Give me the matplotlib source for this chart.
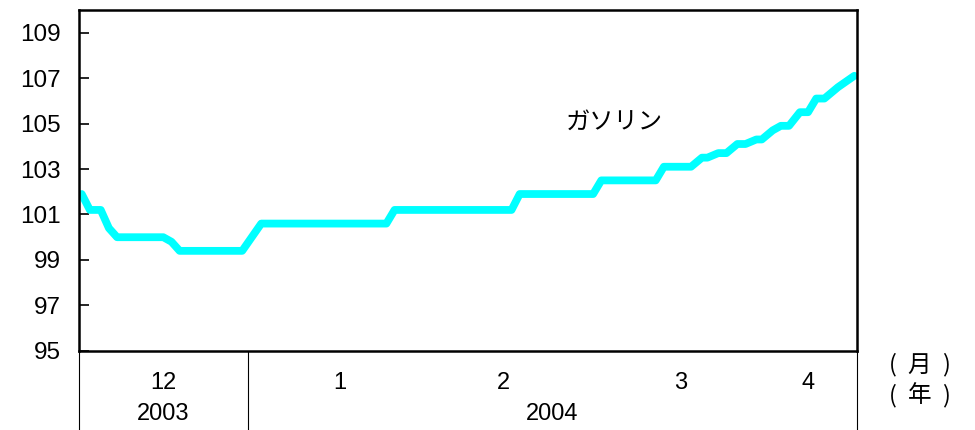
import matplotlib.pyplot as plt
import matplotlib.transforms as mtransforms

plt.rcParams['font.family'] = ['Liberation Sans', 'Noto Sans CJK JP', 'DejaVu Sans']

# days counted from 1 Dec 2003, gasoline price index
days = [0.5, 2, 4, 5.5, 7, 15.5, 17, 18.5, 30, 33.5, 56.5, 58, 79.5, 81,
        94.5, 96, 106, 107.5, 112.5, 114.5, 115.5, 117.5, 119, 121, 122.5,
        124.5, 125.5, 127.5, 129, 130.5, 132.5, 134, 135.5, 137, 139.5, 142.5]
gasoline = [101.9, 101.2, 101.2, 100.4, 100.0, 100.0, 99.8, 99.4, 99.4, 100.6,
            100.6, 101.2, 101.2, 101.9, 101.9, 102.5, 102.5, 103.1, 103.1, 103.5,
            103.5, 103.7, 103.7, 104.1, 104.1, 104.3, 104.3, 104.7, 104.9, 104.9,
            105.5, 105.5, 106.1, 106.1, 106.6, 107.1]

month_labels = ['12', '1', '2', '3', '4']
month_pos = [15.5, 48, 78, 110.5, 134]
year_labels = ['2003', '2004']
year_pos = [15.5, 87]
year_bounds = [0, 31, 143]

fig = plt.figure(figsize=(9.75, 4.3), dpi=100)
ax = fig.add_axes([0.081, 0.184, 0.798, 0.793])

ax.plot(days, gasoline, color='#00FFFF', lw=5.6,
        solid_capstyle='round', solid_joinstyle='round')

ax.set_xlim(0, 143)
ax.set_ylim(95, 110)
ax.set_yticks(range(95, 110, 2))
ax.tick_params(axis='y', direction='in', length=7, width=1.2, labelsize=17.5, pad=13)
ax.set_xticks([])
for s in ax.spines.values():
    s.set_linewidth(1.8)
    s.set_color('black')

ax.text(89.5, 105.1, 'ガソリン', fontsize=17.5, family=['Noto Sans CJK JP'],
        ha='left', va='center')

# month / year rows under the axis
trans = mtransforms.blended_transform_factory(ax.transData, ax.transAxes)
for b in year_bounds:
    ax.plot([b, b], [0, -0.24], color='black', lw=0.8, transform=trans, clip_on=False)
for lab, p in zip(month_labels, month_pos):
    ax.text(p, -0.095, lab, transform=trans, ha='center', va='center', fontsize=17)
for lab, p in zip(year_labels, year_pos):
    ax.text(p, -0.185, lab, transform=trans, ha='center', va='center', fontsize=17)

# unit markers to the right of the rows
for y, unit in [(0.151, '月'), (0.081, '年')]:
    fig.text(0.916, y, '(', ha='center', va='center', fontsize=17,
             family=['Noto Sans CJK JP'])
    fig.text(0.943, y, unit, ha='center', va='center', fontsize=17,
             family=['Noto Sans CJK JP'])
    fig.text(0.970, y, ')', ha='center', va='center', fontsize=17,
             family=['Noto Sans CJK JP'])

fig.savefig('out.png', dpi=100)
